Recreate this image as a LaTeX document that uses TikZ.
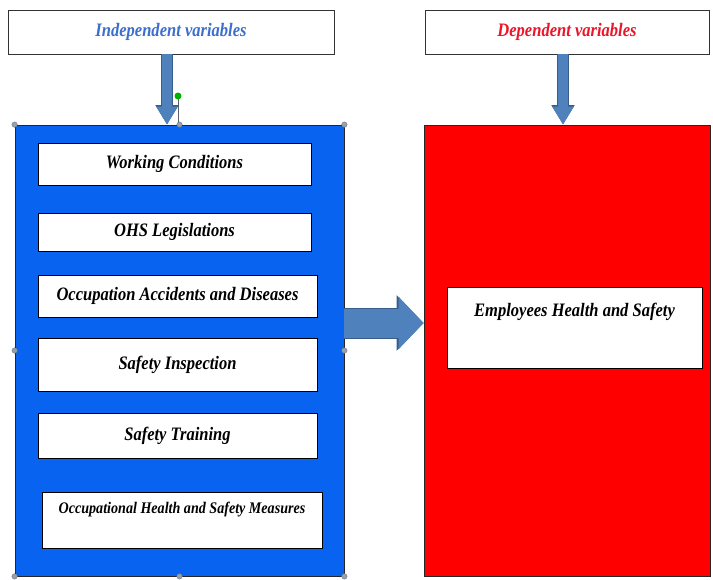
\documentclass[tikz,border=0pt]{standalone}
\usepackage{fontspec}
\usetikzlibrary{arrows.meta,calc}
\newfontfamily\lblfont[FakeStretch=0.87]{Liberation Serif}
\definecolor{vblue}{RGB}{8,100,240}
\definecolor{vred}{RGB}{255,0,0}
\definecolor{arrowfill}{RGB}{79,129,189}
\definecolor{arrowline}{RGB}{56,93,138}
\definecolor{headblue}{RGB}{60,110,205}
\definecolor{headred}{RGB}{235,20,40}
\definecolor{handle}{RGB}{150,160,175}
\tikzset{
  headbox/.style={draw=black!80, line width=0.9pt, fill=white, inner sep=0pt,
    font=\lblfont\bfseries\itshape\fontsize{19}{22}\selectfont},
  panel/.style={draw=black!85, line width=0.8pt, inner sep=0pt},
  itembox/.style={draw=black, line width=1pt, fill=white, inner sep=0pt,
    font=\lblfont\bfseries\itshape\fontsize{19}{22}\selectfont},
  blockarrow/.style={line width=10pt, arrowfill,
    preaction={draw=arrowline, line width=11.5pt, -{Triangle[length=19.5pt,width=22pt]}},
    -{Triangle[length=18pt,width=20pt]}},
  bigarrow/.style={line width=29pt, arrowfill,
    preaction={draw=arrowline, line width=31pt, -{Triangle[length=27pt,width=54pt]}},
    -{Triangle[length=25pt,width=51pt]}},
  hdl/.style={circle, fill=handle, draw=handle!70!black, line width=0.3pt, inner sep=0pt, minimum size=5.5pt}
}
\begin{document}
\begin{tikzpicture}[x=1pt,y=-1pt]
\useasboundingbox (0,0) rectangle (713,579);
\fill[white] (0,0) rectangle (713,579);

% headers
\node[headbox, minimum width=326pt, minimum height=44pt, text=headblue] (indep) at (171,32) {Independent variables};
\node[headbox, minimum width=284pt, minimum height=44pt, text=headred] (dep) at (567,32) {Dependent variables};

% panels
\node[panel, fill=vblue, minimum width=329pt, minimum height=451pt] (blue) at (179.5,350.5) {};
\node[panel, fill=vred, minimum width=286pt, minimum height=451pt] (red) at (567,350.5) {};

% items
\node[itembox, minimum width=273pt, minimum height=42pt] (b1) at (174.5,164) {Working Conditions};
\node[itembox, minimum width=273pt, minimum height=38pt] (b2) at (174.5,232) {OHS Legislations};
\node[itembox, minimum width=279pt, minimum height=42pt] (b3) at (177.5,296) {Occupation Accidents and Diseases};
\node[itembox, minimum width=279pt, minimum height=53pt] (b4) at (177.5,364.5) {Safety Inspection};
\node[itembox, minimum width=279pt, minimum height=45pt] (b5) at (177.5,435.5) {Safety Training};
\node[itembox, minimum width=280pt, minimum height=56pt] (b6) at (182,520) {};
\node[font=\lblfont\bfseries\itshape\fontsize{16.2}{19}\selectfont, inner sep=0pt] (b6t) at (182,510) {Occupational Health and Safety Measures};

\node[itembox, minimum width=255pt, minimum height=81pt] (emp) at (574.5,327.5) {};
\node[font=\lblfont\bfseries\itshape\fontsize{19}{22}\selectfont, inner sep=0pt] (empt) at (574.5,312) {Employees Health and Safety};

% arrows
\draw[blockarrow] ([xshift=-4pt]indep.south) -- ([xshift=-12.5pt]blue.north);
\draw[blockarrow] ([xshift=-4pt]dep.south) -- ([xshift=-4pt]red.north);
\draw[bigarrow] ([yshift=27.5pt]blue.east) -- ([yshift=27.5pt]red.west);

% selection handles
\coordinate (rot) at (178,96);
\draw[handle!60!black, line width=0.5pt] (rot) -- ([xshift=-1.5pt]blue.north);
\node[circle, fill=green!70!black, inner sep=0pt, minimum size=7pt] (rotdot) at (rot) {};
\foreach \a/\n in {north west/h1, north/h2, north east/h3, west/h4, east/h5, south west/h6, south/h7, south east/h8}
  \node[hdl] (\n) at (blue.\a) {};
\end{tikzpicture}
\end{document}
